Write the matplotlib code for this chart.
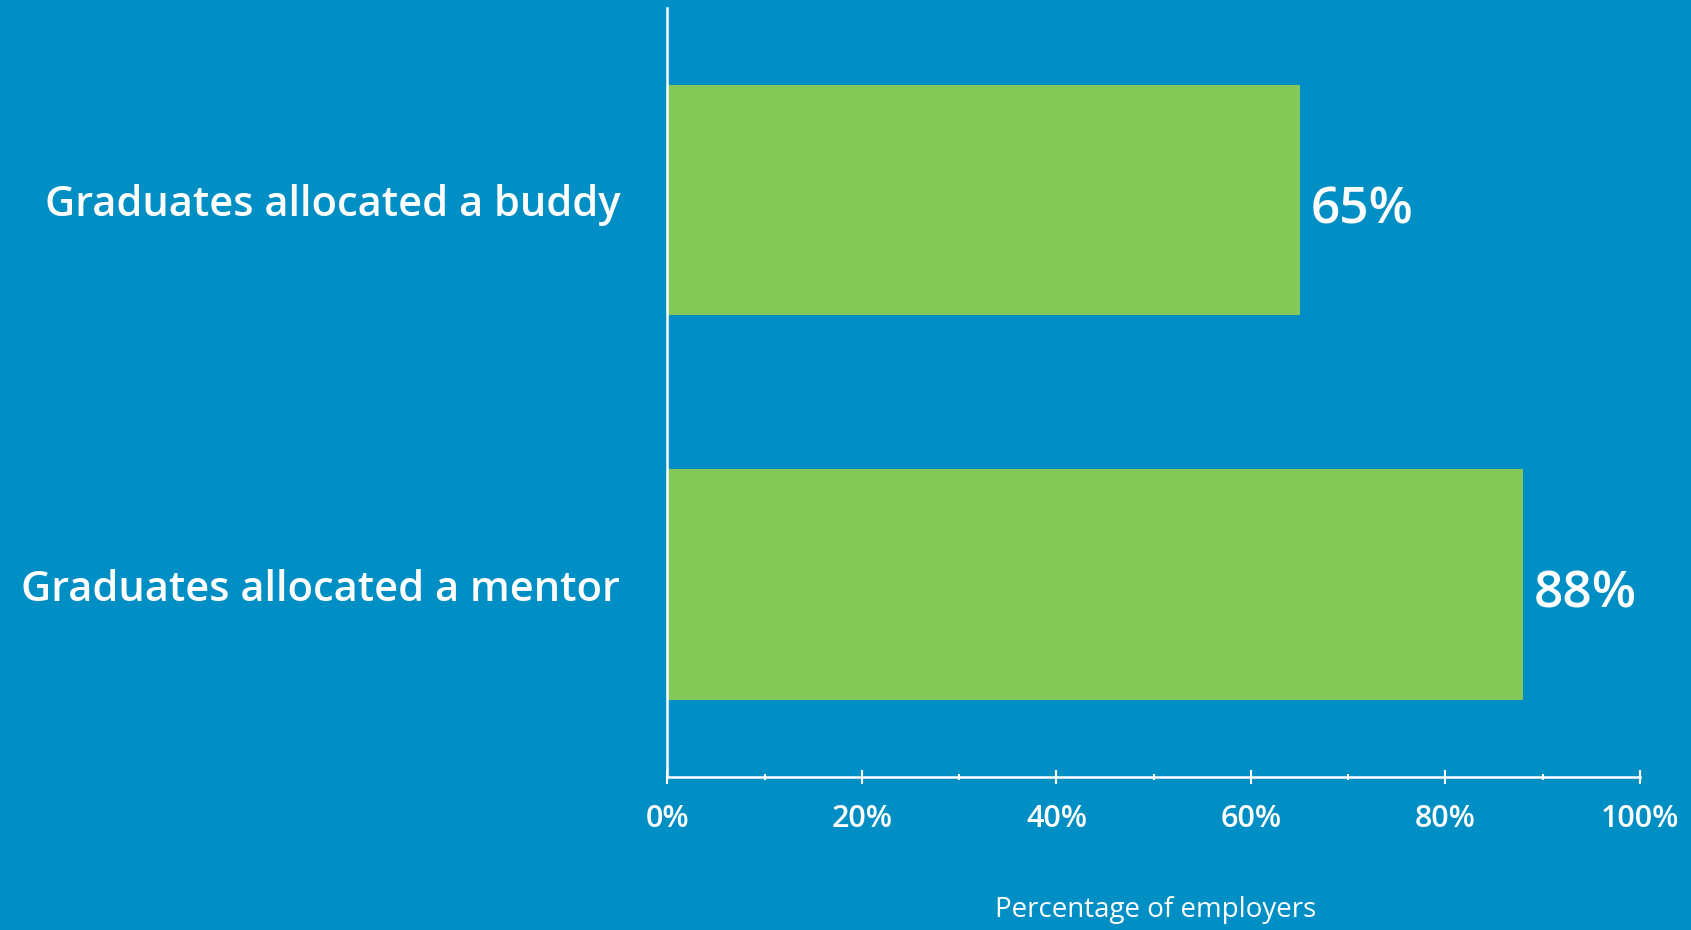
import matplotlib
matplotlib.use("Agg")
import matplotlib.pyplot as plt
from matplotlib.ticker import MultipleLocator, FuncFormatter

categories = ["Graduates allocated a mentor", "Graduates allocated a buddy"]
values = [88, 65]

bg = "#008fc4"
green = "#84c857"

plt.rcParams["font.family"] = ["Open Sans", "DejaVu Sans"]

fig = plt.figure(figsize=(16.91, 9.30), dpi=100, facecolor=bg)
ax = fig.add_axes([0.3947, 0.1648, 0.5751, 0.8266], facecolor=bg)

ypos = list(range(len(categories)))
ax.barh(ypos, values, height=0.6, color=green, zorder=2)

# value labels to the right of each bar
for y, v in zip(ypos, values):
    ax.text(v + 1.1, y - 0.06, f"{v}%", va="baseline", ha="left", color="white",
            fontsize=37, fontweight="semibold")

ax.set_xlim(0, 100)
ax.set_ylim(-0.5, 1.5)
ax.set_yticks(ypos)
ax.set_yticklabels(categories, fontsize=30, fontweight="semibold", color="white")
ax.tick_params(axis="y", length=0, pad=34)
for lbl in ax.get_yticklabels():
    lbl.set_verticalalignment("center_baseline")

ax.xaxis.set_major_locator(MultipleLocator(20))
ax.xaxis.set_minor_locator(MultipleLocator(10))
ax.xaxis.set_major_formatter(FuncFormatter(lambda x, p: f"{x:.0f}%"))
ax.tick_params(axis="x", which="major", direction="inout", length=9.5, width=1.5,
               color="white", labelcolor="white", labelsize=22, pad=15)
ax.tick_params(axis="x", which="minor", direction="inout", length=5, width=1.5,
               color="white")
for lbl in ax.get_xticklabels():
    lbl.set_fontweight("semibold")

for side in ["top", "right"]:
    ax.spines[side].set_visible(False)
for side in ["left", "bottom"]:
    ax.spines[side].set_color("white")
    ax.spines[side].set_linewidth(1.8)

fig.text(0.6836, 0.022, "Percentage of employers", ha="center", va="center",
         color="white", fontsize=20)

fig.savefig("out.png", dpi=100, facecolor=bg)
